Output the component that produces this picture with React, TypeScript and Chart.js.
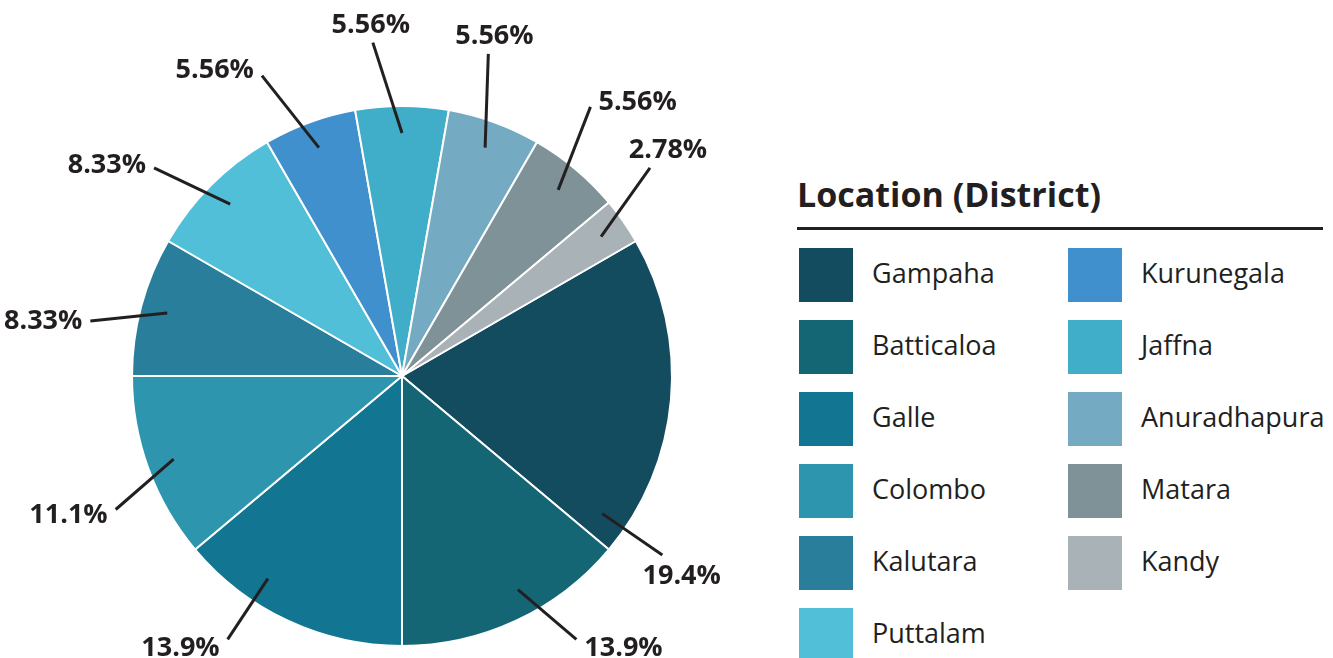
import React, { useEffect, useRef } from "react";
import { Chart, registerables } from "chart.js";

Chart.register(...registerables);

// ---- data ----
const districts = [
  "Gampaha",
  "Batticaloa",
  "Galle",
  "Colombo",
  "Kalutara",
  "Puttalam",
  "Kurunegala",
  "Jaffna",
  "Anuradhapura",
  "Matara",
  "Kandy",
];
const respondents = [7, 5, 5, 4, 3, 3, 2, 2, 2, 2, 1];
const sliceColors = [
  "#134b5f",
  "#146674",
  "#127592",
  "#2d95ad",
  "#287e9b",
  "#51bfd8",
  "#4190ce",
  "#40aec8",
  "#74abc2",
  "#7e9297",
  "#a8b2b7",
];
const legendTitle = "Location (District)";

const TEXT = "#231f20";
const FONT = '"Open Sans", "DejaVu Sans", sans-serif';
const LABEL_SIZE = 27;

const total = respondents.reduce((a, b) => a + b, 0);
const pctText = (v: number) => ((v / total) * 100).toPrecision(3) + "%";

type Box = { x: number; y: number; w: number; h: number };

const overlap = (a: Box, b: Box, m: number) =>
  a.x < b.x + b.w + m && b.x < a.x + a.w + m && a.y < b.y + b.h + m && b.y < a.y + a.h + m;

const leaderLabels = {
  id: "leaderLabels",
  afterDatasetsDraw(chart: any) {
    const ctx: CanvasRenderingContext2D = chart.ctx;
    const meta = chart.getDatasetMeta(0);
    const values: number[] = chart.data.datasets[0].data;
    const deg = Math.PI / 180;
    const W = chart.width;
    const H = chart.height;
    ctx.save();
    ctx.font = `700 ${LABEL_SIZE}px ${FONT}`;
    const placed: Box[] = [];
    meta.data.forEach((arc: any, i: number) => {
      const p = arc.getProps(["x", "y", "startAngle", "endAngle", "outerRadius"], true);
      const cx = p.x, cy = p.y, R = p.outerRadius;
      const text = pctText(values[i]);
      const w = ctx.measureText(text).width;
      const h = LABEL_SIZE * 0.72;
      const mid = (p.startAngle + p.endAngle) / 2;
      const r1 = R * 0.9;
      const gap = 8;
      let best: any = null;
      let bestScore = Infinity;
      for (let a = p.startAngle + 2 * deg; a <= p.endAngle - 2 * deg + 1e-9; a += 0.5 * deg) {
        for (const tw of [-5, 0]) {
          for (const mode of ["h", "v"]) {
            const oa = a + tw * deg;
            const ux = Math.cos(oa), uy = Math.sin(oa);
            const up = Math.max(0, -uy);
            const r2 = R * (1.17 + 0.07 * up * up);
            const ex = cx + r2 * ux, ey = cy + r2 * uy;
            let bx: number, by: number;
            if (mode === "h") {
              bx = ex + Math.sign(ux) * (gap + w / 2);
              by = ey + uy * 8;
            } else {
              bx = ex + ux * w * 0.3;
              by = ey + Math.sign(uy) * (gap + 2 + h / 2);
            }
            const box = { x: bx - w / 2, y: by - h / 2, w, h };
            const pref = Math.abs(uy) > 0.92 ? "v" : "h";
            let score = Math.abs(a - mid) / deg + (tw === 0 ? 3 : 0) + (mode !== pref ? 4 : 0);
            if (box.x < 3 || box.x + box.w > W - 8 || box.y < 2 || box.y + box.h > H - 2) score += 1000;
            const qx = Math.max(box.x, Math.min(cx, box.x + box.w));
            const qy = Math.max(box.y, Math.min(cy, box.y + box.h));
            if (Math.hypot(qx - cx, qy - cy) < R + 6) score += 1000;
            if (placed.some((b) => overlap(b, box, 4))) score += 1000;
            if (score < bestScore) {
              bestScore = score;
              best = {
                x1: cx + r1 * Math.cos(a),
                y1: cy + r1 * Math.sin(a),
                ex,
                ey,
                bx,
                by,
                box,
              };
            }
          }
        }
      }
      if (!best) return;
      placed.push(best.box);
      ctx.beginPath();
      ctx.moveTo(best.x1, best.y1);
      ctx.lineTo(best.ex, best.ey);
      ctx.lineWidth = 3;
      ctx.strokeStyle = TEXT;
      ctx.stroke();
      ctx.fillStyle = TEXT;
      ctx.textAlign = "center";
      ctx.textBaseline = "alphabetic";
      ctx.fillText(text, best.bx, best.by + h / 2);
    });
    ctx.restore();
  },
};

function PieChart() {
  const ref = useRef<HTMLCanvasElement | null>(null);
  useEffect(() => {
    if (!ref.current) return;
    const chart = new Chart(ref.current, {
      type: "pie",
      data: {
        labels: districts,
        datasets: [
          {
            data: respondents,
            backgroundColor: sliceColors,
            borderColor: "#ffffff",
            borderWidth: 2,
          },
        ],
      },
      options: {
        animation: false,
        responsive: true,
        maintainAspectRatio: false,
        rotation: 60,
        layout: { padding: { left: 131, right: 57, top: 105, bottom: 11 } },
        plugins: {
          legend: { display: false },
          tooltip: { enabled: false },
        },
      },
      plugins: [leaderLabels],
    } as any);
    return () => chart.destroy();
  }, []);
  return (
    <div style={{ position: "absolute", left: 0, top: 0, width: 730, height: 658 }}>
      <canvas ref={ref} />
    </div>
  );
}

function Legend() {
  const rowsPerCol = 6;
  return (
    <>
      <div
        style={{
          position: "absolute",
          left: 797,
          top: 177,
          font: `700 34px ${FONT}`,
          lineHeight: "34px",
          color: TEXT,
          whiteSpace: "nowrap",
        }}
      >
        {legendTitle}
      </div>
      <div
        style={{
          position: "absolute",
          left: 797,
          top: 227,
          width: 526,
          height: 2.5,
          background: TEXT,
        }}
      />
      {districts.map((d, i) => {
        const col = Math.floor(i / rowsPerCol);
        const row = i % rowsPerCol;
        const sx = col === 0 ? 799 : 1068;
        const top = 248 + row * 72;
        return (
          <React.Fragment key={d}>
            <div
              style={{
                position: "absolute",
                left: sx,
                top,
                width: 54,
                height: 54,
                background: sliceColors[i],
              }}
            />
            <div
              style={{
                position: "absolute",
                left: sx + 73,
                top: top + 11,
                font: `400 27px ${FONT}`,
                lineHeight: "27px",
                color: TEXT,
                whiteSpace: "nowrap",
              }}
            >
              {d}
            </div>
          </React.Fragment>
        );
      })}
    </>
  );
}

export default function App() {
  return (
    <div
      style={{
        position: "fixed",
        left: 0,
        top: 0,
        width: 1333,
        height: 658,
        background: "#ffffff",
        overflow: "hidden",
      }}
    >
      <PieChart />
      <Legend />
    </div>
  );
}
